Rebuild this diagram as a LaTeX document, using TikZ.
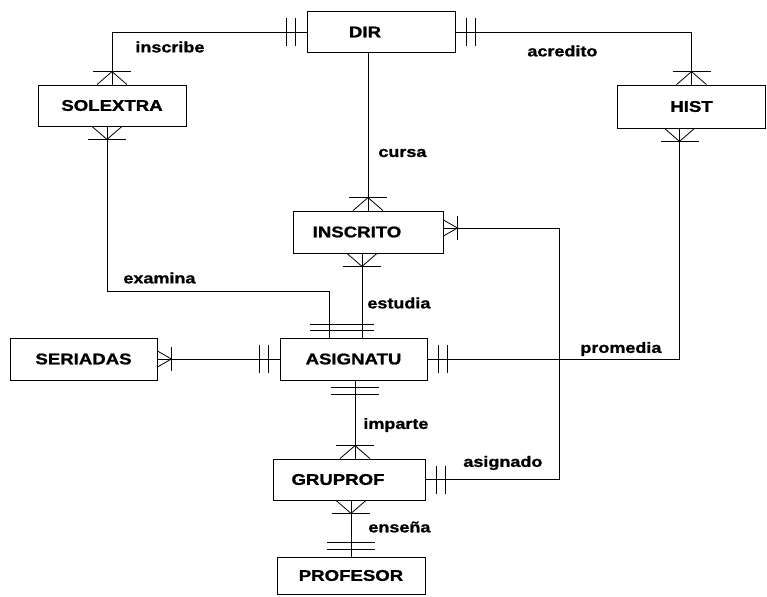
\documentclass[tikz,border=0pt]{standalone}
\usepackage{fontspec}
\newfontfamily\erfont{Liberation Sans}[FakeStretch=1.2, BoldFeatures={FakeBold=1.2}]
\usetikzlibrary{calc}
\tikzset{
  box/.style={draw, rectangle, minimum width=148pt, minimum height=41pt, inner sep=0pt,
    font=\erfont\bfseries\fontsize{15.5}{18}\selectfont},
  lbl/.style={anchor=west, inner sep=0pt, font=\erfont\bfseries\fontsize{15}{18}\selectfont},
  crowV/.pic={\draw (0,-15) -- (13,0) -- (0,15); \draw (13,-19) -- (13,19);},
  crowH/.pic={\draw (0,-8) -- (14,0) -- (0,8); \draw (14,-12) -- (14,12);},
  oneV/.pic={\draw (7,-24) -- (7,24); \draw (14,-24) -- (14,24);},
  oneH/.pic={\draw (11,-14) -- (11,14); \draw (20,-14) -- (20,14);}
}
\begin{document}
\begin{tikzpicture}[x=1pt, y=-1pt, line width=0.8pt]
\useasboundingbox (0,0) rectangle (767,596);
% entities
\node[box] (DIR) at (381,32) {\hspace*{-32pt}DIR};
\node[box] (SOLEXTRA) at (112,105.5) {SOLEXTRA};
\node[box, minimum height=43pt] (HIST) at (691.5,106.5) {HIST};
\node[box, minimum width=150pt, minimum height=42pt] (INSCRITO) at (368,232) {\hspace*{-22pt}INSCRITO};
\node[box, minimum width=147pt, minimum height=42pt] (SERIADAS) at (83.5,359) {SERIADAS};
\node[box, minimum width=147pt, minimum height=42pt] (ASIGNATU) at (353.5,359) {ASIGNATU};
\node[box, minimum width=152pt] (GRUPROF) at (349,479.5) {\hspace*{-22pt}GRUPROF};
\node[box, minimum height=37pt] (PROFESOR) at (351,575.5) {PROFESOR};
% connectors
\draw (DIR.west) -| (SOLEXTRA.north);
\pic[rotate=180] at (DIR.west) {oneH};
\pic[rotate=90] at (SOLEXTRA.north) {crowV};

\draw ([xshift=-5pt]SOLEXTRA.south) -- ++(0,165) -| ([xshift=-24pt]ASIGNATU.north);
\pic[rotate=-90] at ([xshift=-5pt]SOLEXTRA.south) {crowV};

\draw (DIR.east) -| (HIST.north);
\pic at (DIR.east) {oneH};
\pic[rotate=90] at (HIST.north) {crowV};

\draw ([xshift=-12pt]HIST.south) |- (ASIGNATU.east);
\pic[rotate=-90] at ([xshift=-12pt]HIST.south) {crowV};
\pic at (ASIGNATU.east) {oneH};

\draw (INSCRITO.north |- DIR.south) -- (INSCRITO.north);
\pic[rotate=90] at (INSCRITO.north) {crowV};

\draw ([xshift=-6pt]INSCRITO.south) -- ([xshift=8.5pt]ASIGNATU.north);
\pic[rotate=-90] at ([xshift=-6pt]INSCRITO.south) {crowV};
\draw ([shift={(-43.5,-13)}]ASIGNATU.north) -- ++(64,0);
\draw ([shift={(-43.5,-7)}]ASIGNATU.north) -- ++(64,0);

\draw (ASIGNATU.west) -- (SERIADAS.east);
\pic[rotate=180] at (ASIGNATU.west) {oneH};
\pic at (SERIADAS.east) {crowH};

\draw ([xshift=1.5pt]ASIGNATU.south) -- ([xshift=6pt]GRUPROF.north);
\pic[rotate=-90] at ([xshift=1.5pt]ASIGNATU.south) {oneV};
\pic[rotate=90] at ([xshift=6pt]GRUPROF.north) {crowV};

\draw ([xshift=2pt]GRUPROF.south) -- (PROFESOR.north);
\pic[rotate=-90] at ([xshift=2pt]GRUPROF.south) {crowV};
\pic[rotate=90] at (PROFESOR.north) {oneV};

\draw ([yshift=4pt]INSCRITO.east) -- ++(116,0) |- (GRUPROF.east);
\pic at ([yshift=4pt]INSCRITO.east) {crowH};
\pic at (GRUPROF.east) {oneH};
% relationship labels
\node[lbl] (l1) at (135,47) {inscribe};
\node[lbl] (l2) at (527,51) {acredito};
\node[lbl] (l3) at (378,153) {cursa};
\node[lbl] (l4) at (123,278) {examina};
\node[lbl] (l5) at (367,303) {estudia};
\node[lbl] (l6) at (580,349) {promedia};
\node[lbl] (l7) at (363,425) {imparte};
\node[lbl] (l8) at (463,463) {asignado};
\node[lbl] (l9) at (368,527) {enseña};
\end{tikzpicture}
\end{document}
